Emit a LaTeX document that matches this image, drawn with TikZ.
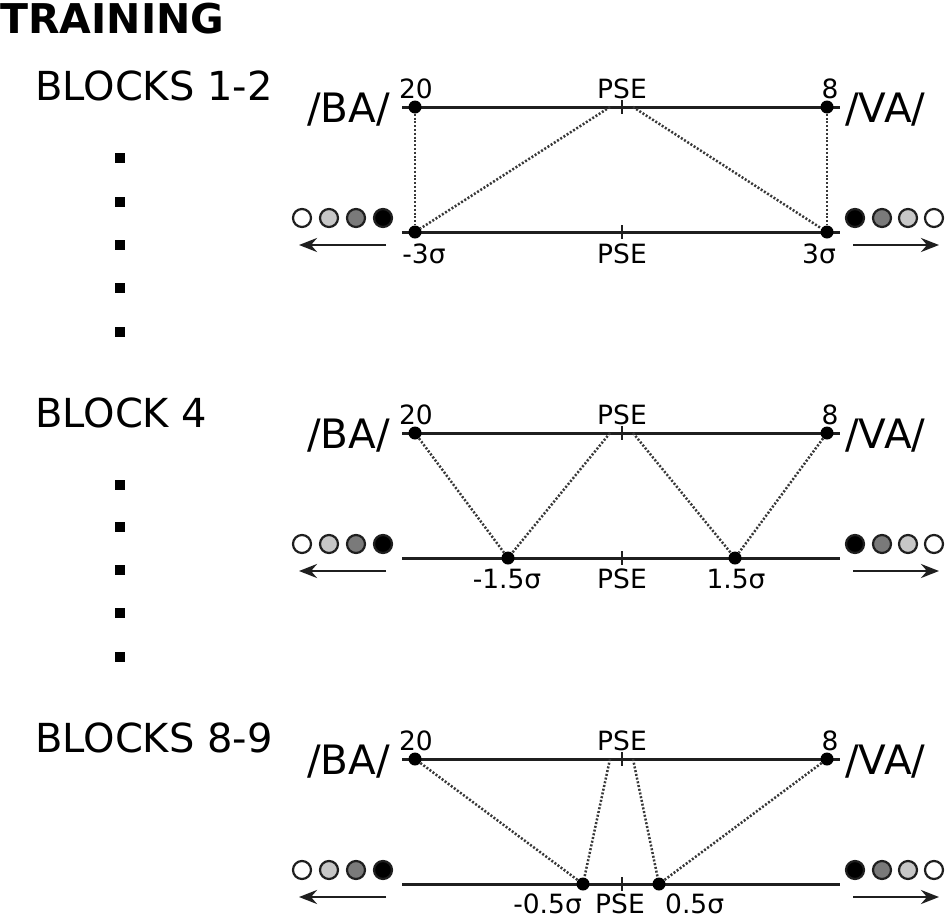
\documentclass[tikz,border=0pt]{standalone}
\usepackage{fontspec}
\setmainfont{DejaVu Sans}
\usetikzlibrary{arrows.meta}
\newcommand\panelbase[1]{%
  \draw[axis] (402,107) coordinate (tl#1) -- (840,107) coordinate (tr#1);
  \draw[axis] (402,232) coordinate (bl#1) -- (840,232) coordinate (br#1);
  \draw[tick] (622,100) coordinate (tt#1) -- (622,114) coordinate (tb#1);
  \draw[tick] (622,225) coordinate (bt#1) -- (622,239) coordinate (bb#1);
  \node[pt] (a20#1) at (415,107) {};
  \node[pt] (a8#1) at (827,107) {};
  \coordinate (pl#1) at (610,107);
  \coordinate (pr#1) at (633,107);
  \node[small, anchor=base] (l20#1) at (416,98) {20};
  \node[small, anchor=base] (lpse#1) at (622,98) {PSE};
  \node[small, anchor=base] (l8#1) at (830,98) {8};
  \node[syl] (ba#1) at (307,122) {/BA/};
  \node[syl] (va#1) at (845,122) {/VA/};
  \node[bead, fill=white] (cl1#1) at (302,218) {};
  \node[bead, fill=black!22] (cl2#1) at (329,218) {};
  \node[bead, fill=black!52] (cl3#1) at (356,218) {};
  \node[bead, fill=black] (cl4#1) at (383,218) {};
  \node[bead, fill=black] (cr1#1) at (855,218) {};
  \node[bead, fill=black!52] (cr2#1) at (882,218) {};
  \node[bead, fill=black!22] (cr3#1) at (908,218) {};
  \node[bead, fill=white] (cr4#1) at (934,218) {};
  \coordinate (als#1) at (386,245); \coordinate (ale#1) at (299,245);
  \coordinate (ars#1) at (853,245); \coordinate (are#1) at (939,245);
  \draw[arr] (als#1) -- (ale#1);
  \draw[arr] (ars#1) -- (are#1);
}
\begin{document}
\begin{tikzpicture}[x=1pt,y=-1pt,
  axis/.style={line width=3pt, draw=black!88},
  tick/.style={line width=2.2pt, draw=black!88},
  dotline/.style={line width=2.5pt, draw=black!78, dash pattern=on 2pt off 1.8pt},
  pt/.style={circle, fill=black, inner sep=0pt, minimum size=13pt},
  big/.style={font=\fontsize{40}{40}\selectfont, inner sep=0pt, anchor=base west},
  syl/.style={font=\fontsize{40.5}{40}\selectfont, inner sep=0pt, anchor=base west},
  small/.style={font=\fontsize{26.5}{26}\selectfont, inner sep=0pt},
  bead/.style={circle, draw=black!88, line width=2.2pt, inner sep=0pt, minimum size=18pt},
  sq/.style={fill=black, inner sep=0pt, minimum size=10.5pt},
  arr/.style={line width=2.8pt, draw=black!88, -{Stealth[length=18pt,width=14pt,inset=6pt]}}
]
\useasboundingbox (0,0) rectangle (950,919);

% left column
\node[font=\fontsize{41}{41}\selectfont\bfseries, inner sep=0pt, anchor=base west] (train) at (0,33) {TRAINING};
\node[big] (blk1) at (35,100) {BLOCKS 1-2};
\node[big] (blk4) at (35,427) {BLOCK 4};
\node[big] (blk8) at (35,752) {BLOCKS 8-9};
\foreach \y [count=\i] in {158,202,245,288,332} {\node[sq] (sa\i) at (120,\y) {};}
\foreach \y [count=\i] in {485,527,570,613,657} {\node[sq] (sb\i) at (120,\y) {};}

% panel 1
\begin{scope}
  \panelbase{A}
  \node[pt] (bLA) at (415,232) {};
  \node[pt] (bRA) at (827,232) {};
  \draw[dotline] (a20A) -- (bLA);
  \draw[dotline] (plA) -- (bLA);
  \draw[dotline] (prA) -- (bRA);
  \draw[dotline] (a8A) -- (bRA);
  \node[small, anchor=base] (sLA) at (424,263) {-3σ};
  \node[small, anchor=base] (bpseA) at (622,263) {PSE};
  \node[small, anchor=base] (sRA) at (819,263) {3σ};
\end{scope}

% panel 2
\begin{scope}[yshift=-326pt]
  \panelbase{B}
  \node[pt] (bLB) at (508,232) {};
  \node[pt] (bRB) at (735,232) {};
  \draw[dotline] (a20B) -- (bLB);
  \draw[dotline] (plB) -- (bLB);
  \draw[dotline] (prB) -- (bRB);
  \draw[dotline] (a8B) -- (bRB);
  \node[small, anchor=base] (sLB) at (507,262) {-1.5σ};
  \node[small, anchor=base] (bpseB) at (622,262) {PSE};
  \node[small, anchor=base] (sRB) at (736,262) {1.5σ};
\end{scope}

% panel 3
\begin{scope}[yshift=-652pt]
  \panelbase{C}
  \node[pt] (bLC) at (583,232) {};
  \node[pt] (bRC) at (659,232) {};
  \draw[dotline] (a20C) -- (bLC);
  \draw[dotline] (plC) -- (bLC);
  \draw[dotline] (prC) -- (bRC);
  \draw[dotline] (a8C) -- (bRC);
  \node[small, anchor=base east] (sLC) at (582,261) {-0.5σ};
  \node[small, anchor=base] (bpseC) at (620,261) {PSE};
  \node[small, anchor=base west] (sRC) at (665,261) {0.5σ};
\end{scope}
\end{tikzpicture}
\end{document}
